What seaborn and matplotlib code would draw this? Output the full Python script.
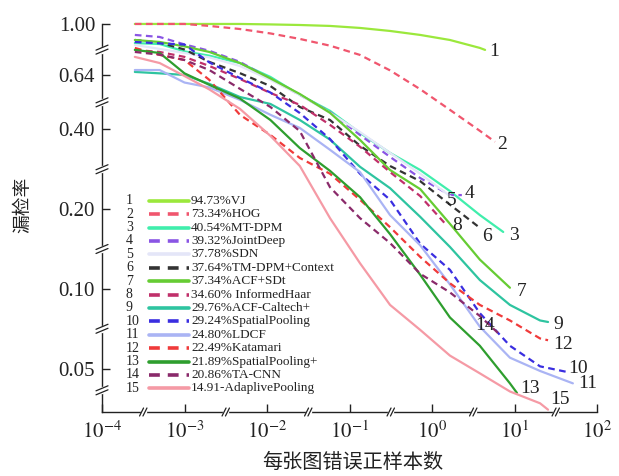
import numpy as np
import pandas as pd
import matplotlib
matplotlib.use('Agg')
import matplotlib.pyplot as plt
import seaborn as sns
from matplotlib.lines import Line2D
from matplotlib.transforms import IdentityTransform
from matplotlib.ticker import NullLocator, FixedLocator, FixedFormatter

# FPPI sample points
fppi_grid = [2.5e-4, 5e-4, 1e-3, 2e-3, 4.7e-3, 0.011, 0.025, 0.058, 0.134, 0.31, 0.72, 1.65, 3.8, 8.8, 20.4, 47]

methods = ['94.73%VJ', '73.34%HOG', '40.54%MT-DPM', '39.32%JointDeep', '37.78%SDN',
           '37.64%TM-DPM+Context', '37.34%ACF+SDt', '34.60% InformedHaar', '29.76%ACF-Caltech+',
           '29.24%SpatialPooling', '24.80%LDCF', '22.49%Katamari', '21.89%SpatialPooling+',
           '20.86%TA-CNN', '14.91-AdaplivePooling']

# miss rate at each fppi_grid point (as long as the curve reaches)
miss_vj = [1.0, 1.0, 1.0, 1.0, 1.0, 0.996, 0.991, 0.983, 0.966, 0.941, 0.909, 0.870, 0.812]
miss_hog = [1.0, 1.0, 1.0, 0.983, 0.957, 0.921, 0.878, 0.828, 0.764, 0.668, 0.567, 0.474, 0.395]
miss_mtdpm = [0.847, 0.840, 0.788, 0.759, 0.712, 0.631, 0.540, 0.470, 0.388, 0.326, 0.281, 0.234, 0.190]
miss_jointdeep = [0.909, 0.893, 0.837, 0.792, 0.719, 0.620, 0.540, 0.465, 0.381, 0.315, 0.262, 0.226]
miss_sdn = [0.833, 0.805, 0.777, 0.748, 0.694, 0.615, 0.540, 0.462, 0.391, 0.326, 0.272, 0.224]
miss_tmdpm = [0.870, 0.850, 0.801, 0.719, 0.652, 0.583, 0.486, 0.434, 0.347, 0.291, 0.255, 0.208]
miss_acfsdt = [0.870, 0.855, 0.823, 0.784, 0.712, 0.623, 0.544, 0.462, 0.365, 0.281, 0.238, 0.176, 0.129]
miss_informed = [0.798, 0.784, 0.751, 0.694, 0.620, 0.549, 0.495, 0.416, 0.344, 0.276, 0.224]
miss_acfcal = [0.659, 0.651, 0.642, 0.594, 0.530, 0.499, 0.434, 0.366, 0.289, 0.240, 0.187, 0.144, 0.108, 0.087, 0.076]
miss_spool = [0.855, 0.845, 0.836, 0.716, 0.625, 0.551, 0.461, 0.368, 0.272, 0.217, 0.148, 0.118, 0.081, 0.061, 0.051]
miss_ldcf = [0.670, 0.670, 0.601, 0.576, 0.517, 0.454, 0.405, 0.335, 0.276, 0.190, 0.146, 0.104, 0.072, 0.055, 0.049]
miss_katamari = [0.812, 0.764, 0.731, 0.615, 0.454, 0.381, 0.312, 0.272, 0.217, 0.171, 0.132, 0.105, 0.087, 0.076, 0.065]
miss_spoolp = [0.798, 0.777, 0.651, 0.589, 0.523, 0.434, 0.340, 0.279, 0.222, 0.161, 0.113, 0.078, 0.061, 0.044]
miss_tacnn = [0.784, 0.766, 0.731, 0.670, 0.569, 0.486, 0.394, 0.242, 0.185, 0.149, 0.114, 0.097, 0.079]
miss_adapt = [0.751, 0.712, 0.636, 0.566, 0.478, 0.378, 0.291, 0.185, 0.125, 0.087, 0.070, 0.056, 0.048, 0.041, 0.037]

# last point of each curve
fppi_end = [4.4, 5.8, 7.3, 2.3, 1.9, 3.8, 8.8, 1.5, 25.5, 43, 51, 25.5, 10.7, 6.7, 25.5]
miss_end = [0.798, 0.359, 0.164, 0.226, 0.217, 0.170, 0.101, 0.174, 0.075, 0.0486, 0.044, 0.064, 0.0405, 0.067, 0.035]

y_ticks = [1.0, 0.64, 0.40, 0.20, 0.10, 0.05]
y_ticklabels = ['1.00', '0.64', '0.40', '0.20', '0.10', '0.05']
x_ticks = [1e-4, 1e-3, 1e-2, 1e-1, 1e0, 1e1, 1e2]
x_ticklabels = ['$10^{-4}$', '$10^{-3}$', '$10^{-2}$', '$10^{-1}$', '$10^{0}$', '$10^{1}$', '$10^{2}$']

colors = ['#9be83c', '#f0566e', '#40eeac', '#8a55e4', '#e4e6f8', '#333333', '#66cc33', '#c0306a',
          '#2ec4a0', '#3a2ee0', '#aab4f4', '#f03a3a', '#2e9e2e', '#8a2a6a', '#f59aa5']
dashed = [False, True, False, True, False, True, False, True, False, True, False, True, False, True, False]

all_miss = [miss_vj, miss_hog, miss_mtdpm, miss_jointdeep, miss_sdn, miss_tmdpm, miss_acfsdt,
            miss_informed, miss_acfcal, miss_spool, miss_ldcf, miss_katamari, miss_spoolp,
            miss_tacnn, miss_adapt]

rows = []
for i, name in enumerate(methods):
    xs = fppi_grid[:len(all_miss[i])] + [fppi_end[i]]
    ys = all_miss[i] + [miss_end[i]]
    for x, y in zip(xs, ys):
        rows.append((name, x, y))
df = pd.DataFrame(rows, columns=['method', 'fppi', 'miss'])

sns.set_style('ticks')
plt.rcParams['font.family'] = ['Liberation Serif', 'Noto Sans CJK SC']
plt.rcParams['mathtext.fontset'] = 'stix'

W, H = 619, 476
fig = plt.figure(figsize=(W / 100, H / 100), dpi=100)
ax = fig.add_axes([102 / W, 1 - 412 / H, 495 / W, 392 / H])
ax.set_xscale('log')
ax.set_yscale('log')

palette = dict(zip(methods, colors))
dash_map = dict(zip(methods, [(3, 2) if d else '' for d in dashed]))
sns.lineplot(data=df, x='fppi', y='miss', hue='method', style='method', palette=palette,
             dashes=dash_map, estimator=None, sort=False, legend=False, linewidth=1.6, ax=ax)

ax.set_xlim(1e-4, 1e2)
ax.set_ylim(0.0343, 1.035)
ax.spines['top'].set_visible(False)
ax.spines['right'].set_visible(False)
ax.spines['left'].set_bounds(0.0343, 1.0)
for s in ['left', 'bottom']:
    ax.spines[s].set_linewidth(1.0)
    ax.spines[s].set_color('#222222')

ax.yaxis.set_major_locator(FixedLocator(y_ticks))
ax.yaxis.set_major_formatter(FixedFormatter(y_ticklabels))
ax.xaxis.set_major_locator(FixedLocator(x_ticks))
ax.xaxis.set_major_formatter(FixedFormatter(x_ticklabels))
ax.xaxis.set_minor_locator(NullLocator())
ax.yaxis.set_minor_locator(NullLocator())
ax.tick_params(axis='both', direction='in', length=6, width=1.0, labelsize=15, colors='#222222')
ax.tick_params(axis='x', pad=7)
ax.tick_params(axis='y', pad=5)
ax.set_xlabel('')
ax.set_ylabel('')

fig.text(23 / W, 1 - 205 / H, '漏检率', rotation=90, ha='center', va='center',
         fontsize=13.5, family=['Noto Sans CJK SC'], color='#222222')
fig.text(353 / W, 1 - 462 / H, '每张图错误正样本数', ha='center', va='center',
         fontsize=14.5, family=['Noto Sans CJK SC'], color='#222222')

# curve numbers at the end of each curve (offsets in pixels)
label_off = [(4, 2), (2, 3), (6, 4), (3, -2), (-8, 1), (2, 9), (7, 4), (6, 0), (5, 3),
             (1, -3), (5, 0), (5, 4), (3, -4), (-25, -9), (2, -10)]
for i in range(len(methods)):
    dx, dy = label_off[i]
    ax.annotate(str(i + 1), (fppi_end[i], miss_end[i]), xytext=(dx * 0.72, -dy * 0.72),
                textcoords='offset points', ha='left', va='center', fontsize=14, color='#222222')

# numbered legend drawn by hand
for i, name in enumerate(methods):
    yf = (412 - 200.7 - 13.4 * i) / 392
    ax.plot([(149 - 102) / 495, (189 - 102) / 495], [yf, yf], transform=ax.transAxes,
            color=colors[i], lw=2.6, ls=(0, (3, 2.2)) if dashed[i] else '-', clip_on=False)
    ax.text((191 - 102) / 495, yf, name, transform=ax.transAxes, ha='left', va='center',
            fontsize=9.5, color='#222222')
    ax.text((126 - 102) / 495, yf, str(i + 1), transform=ax.transAxes, ha='left',
            va='center', fontsize=10, color='#222222')

# axis break marks
x0, y0 = ax.transAxes.transform((0, 0))
ybreaks = [np.sqrt(a * b) for a, b in zip(y_ticks[:-1], y_ticks[1:])] + [np.sqrt(0.05 * 0.0343)]
xbreaks = [10 ** (k + 0.5) for k in range(-4, 2)]
for b in ybreaks:
    yb = ax.transData.transform((1, b))[1]
    fig.add_artist(Line2D([x0, x0], [yb - 2, yb + 2], color='white', lw=2.5, transform=IdentityTransform()))
    for g in (-2, 2):
        fig.add_artist(Line2D([x0 - 6, x0 + 6], [yb - 2.5 + g, yb + 2.5 + g], color='#222222', lw=0.9,
                              transform=IdentityTransform()))
for b in xbreaks:
    xb = ax.transData.transform((b, 1))[0]
    fig.add_artist(Line2D([xb - 1.7, xb + 1.7], [y0, y0], color='white', lw=2.5, transform=IdentityTransform()))
    for g in (-1.7, 1.7):
        fig.add_artist(Line2D([xb - 2 + g, xb + 2 + g], [y0 - 4, y0 + 4], color='#222222', lw=0.9,
                              transform=IdentityTransform()))

fig.savefig('out.png', dpi=100)
